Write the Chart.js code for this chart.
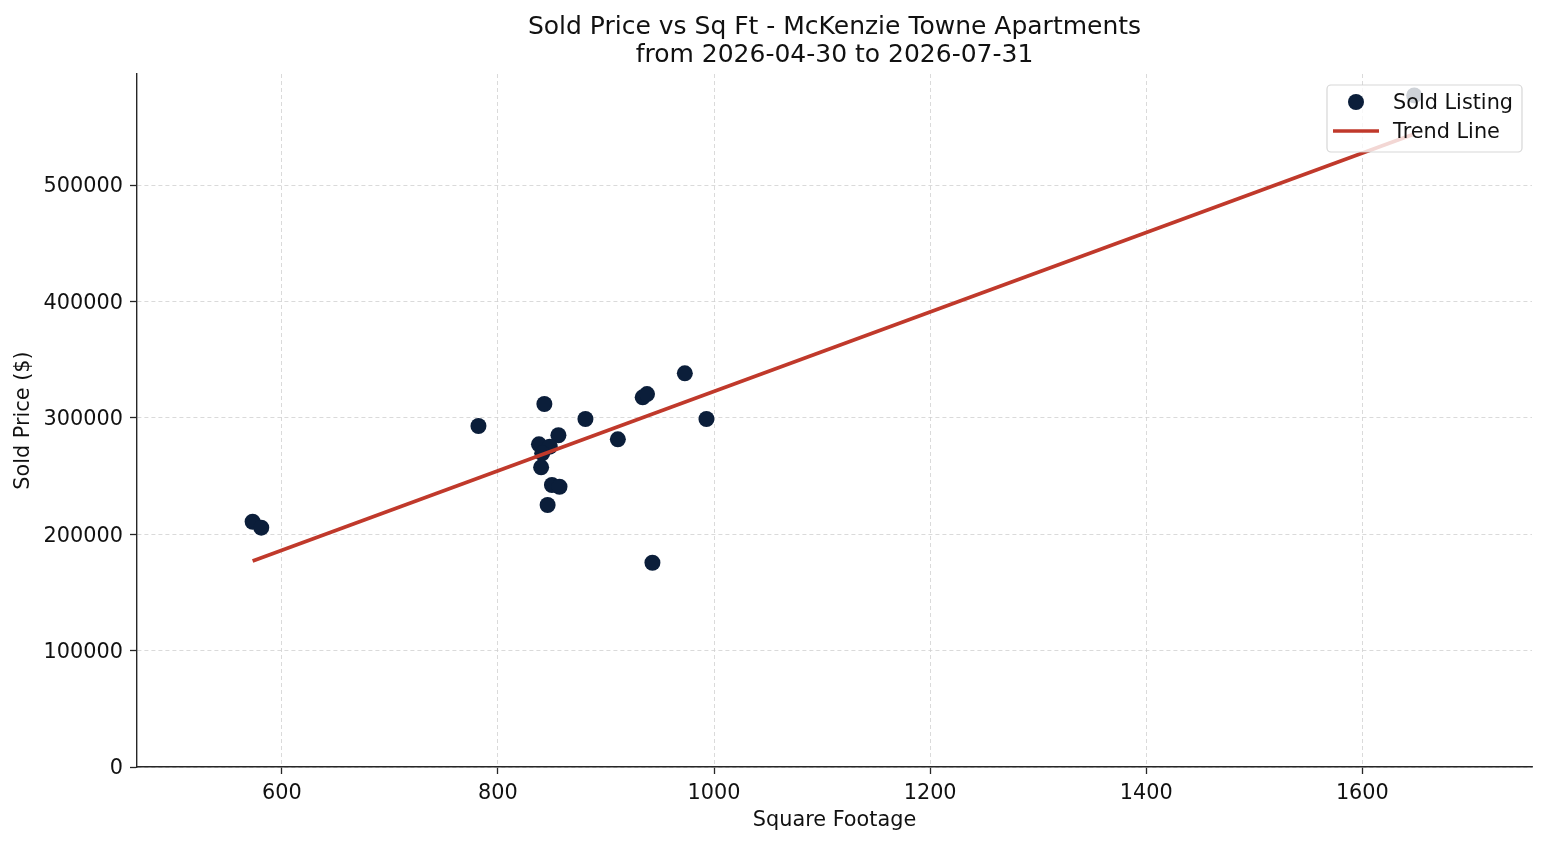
<!DOCTYPE html>
<html>
<head>
<meta charset="utf-8">
<script src="https://cdn.jsdelivr.net/npm/chart.js@4/dist/chart.umd.min.js"></script>
<style>
  html, body { margin: 0; padding: 0; background: #fff; }
  #wrap { width: 1547px; height: 845px; }
</style>
</head>
<body>
<div id="wrap"><canvas id="chart" width="1547" height="845"></canvas></div>
<script>
'use strict'

const titleLines = ['Sold Price vs Sq Ft - McKenzie Towne Apartments', 'from 2026-04-30 to 2026-07-31'];

// sold listings
const sqft = [573, 581, 782, 843, 881, 856, 838, 848, 841, 840, 850, 857, 846, 911, 934, 938, 973, 993, 943, 1648];
const price = [210700, 205600, 293000, 311900, 299000, 285000, 277200, 275200, 269500, 257500, 242300, 240800, 225100, 281500, 317600, 320400, 338200, 299000, 175500, 577000];

// trend line end points
const trendX = [573, 1648];
const trendY = [177000, 543800];

const xTicks = [600, 800, 1000, 1200, 1400, 1600];
const yTicks = [0, 100000, 200000, 300000, 400000, 500000];

const colors = {
	dot: '#0b1e3a',
	trend: '#c0392b',
	axis: '#262626',
	grid: '#d0d0d0',
	text: '#111',
};

const font = 'DejaVu Sans';
const fontSize = 20.8;

const points = sqft.map((x, i) => ({ x: x, y: price[i] }));
const trend = trendX.map((x, i) => ({ x: x, y: trendY[i] }));

// title centred on the plot area, legend box in the upper right corner
const decor = {
	id: 'decor',
	afterDraw(chart) {
		const ctx = chart.ctx;
		const area = chart.chartArea;
		const cx = (area.left + area.right) / 2;
		ctx.save();
		ctx.fillStyle = colors.text;
		ctx.font = '25px "' + font + '"';
		ctx.textAlign = 'center';
		ctx.textBaseline = 'middle';
		titleLines.forEach((t, i) => ctx.fillText(t, cx, 27 + i * 28.5));

		const w = 195, h = 67;
		const lx = area.right - 10 - w;
		const ly = area.top + 11;
		ctx.beginPath();
		ctx.roundRect(lx, ly, w, h, 4);
		ctx.fillStyle = 'rgba(255,255,255,0.8)';
		ctx.fill();
		ctx.strokeStyle = 'rgba(204,204,204,0.8)';
		ctx.lineWidth = 1.2;
		ctx.stroke();

		ctx.beginPath();
		ctx.arc(lx + 29, ly + 17, 8, 0, Math.PI * 2);
		ctx.fillStyle = colors.dot;
		ctx.fill();

		ctx.beginPath();
		ctx.moveTo(lx + 6, ly + 46);
		ctx.lineTo(lx + 52, ly + 46);
		ctx.strokeStyle = colors.trend;
		ctx.lineWidth = 3.7;
		ctx.stroke();

		ctx.fillStyle = colors.text;
		ctx.font = fontSize + 'px "' + font + '"';
		ctx.textAlign = 'left';
		ctx.fillText('Sold Listing', lx + 66, ly + 19);
		ctx.fillText('Trend Line', lx + 66, ly + 48);
		ctx.restore();
	},
};

let chart = new Chart(document.getElementById('chart'), {
	type: 'scatter',
	data: {
		datasets: [
			{
				label: 'Trend Line',
				type: 'line',
				data: trend,
				borderColor: colors.trend,
				borderWidth: 3.7,
				pointRadius: 0,
				fill: false,
				order: 0,
			},
			{
				label: 'Sold Listing',
				data: points,
				backgroundColor: colors.dot,
				borderWidth: 0,
				pointRadius: 8,
				order: 1,
			},
		],
	},
	options: {
		responsive: false,
		animation: false,
		layout: {
			padding: { top: 74, right: 15, bottom: 0, left: 0 },
		},
		plugins: {
			legend: { display: false },
			tooltip: { enabled: false },
			title: { display: false },
		},
		scales: {
			x: {
				type: 'linear',
				min: 466,
				max: 1757,
				afterFit(scale) { scale.height = 78; },
				afterBuildTicks(scale) { scale.ticks = xTicks.map(v => ({ value: v })); },
				grid: {
					color: colors.grid,
					lineWidth: 0.8,
					tickColor: colors.axis,
					tickLength: 7,
					tickWidth: 1.3,
				},
				border: { color: colors.axis, width: 1.4, dash: [4, 3] },
				ticks: {
					color: colors.text,
					font: { family: font, size: fontSize },
					padding: 7,
					maxRotation: 0,
					callback: v => String(v),
				},
				title: {
					display: true,
					text: 'Square Footage',
					color: colors.text,
					font: { family: font, size: fontSize },
					padding: { top: 0, bottom: 12 },
				},
			},
			y: {
				type: 'linear',
				min: 0,
				max: 595400,
				afterFit(scale) { scale.width = 137; },
				afterBuildTicks(scale) { scale.ticks = yTicks.map(v => ({ value: v })); },
				grid: {
					color: colors.grid,
					lineWidth: 0.8,
					tickColor: colors.axis,
					tickLength: 7,
					tickWidth: 1.3,
				},
				border: { color: colors.axis, width: 1.4, dash: [4, 3] },
				ticks: {
					color: colors.text,
					font: { family: font, size: fontSize },
					padding: 7,
					labelOffset: 2,
					callback: v => String(v),
				},
				title: {
					display: true,
					text: 'Sold Price ($)',
					color: colors.text,
					font: { family: font, size: fontSize },
					padding: { top: 11, bottom: 0 },
				},
			},
		},
	},
	plugins: [decor],
});
</script>
</body>
</html>
